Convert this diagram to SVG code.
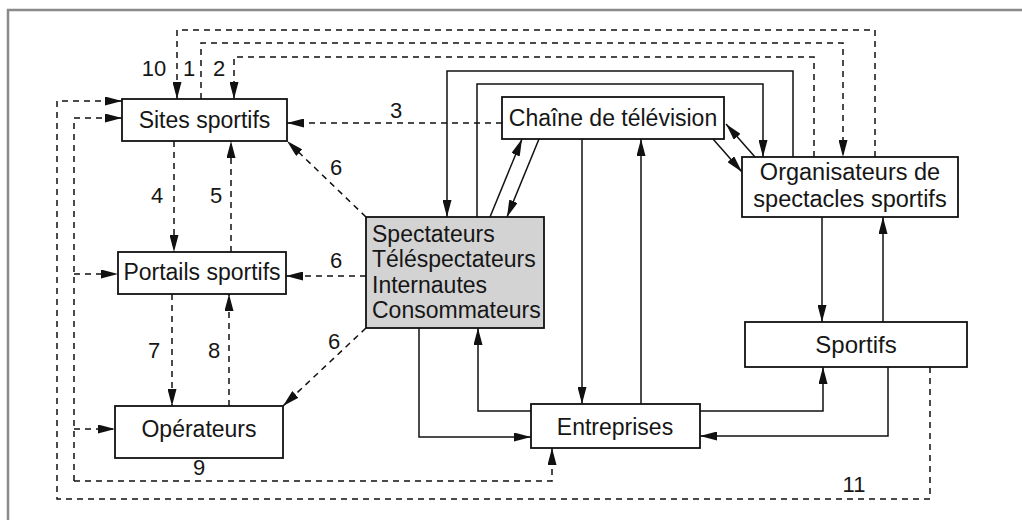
<svg xmlns="http://www.w3.org/2000/svg" width="1022" height="520" viewBox="0 0 1022 520">
  <style>
    .box { fill: #ffffff; stroke: #111111; stroke-width: 1.8; }
    .shaded { fill: #d3d3d3; stroke: #111111; stroke-width: 1.8; }
    .lbl { font-family: "Liberation Sans", Arial, sans-serif; font-size: 23px; fill: #161616; }
    .big { font-size: 24px; }
    .org { font-size: 23.5px; }
    .num { font-family: "Liberation Sans", Arial, sans-serif; font-size: 22px; fill: #161616; text-anchor: middle; }
    .mid { text-anchor: middle; }
    .solid { fill: none; stroke: #111111; stroke-width: 1.5; }
    .dash { fill: none; stroke: #111111; stroke-width: 1.5; stroke-dasharray: 6 5; }
    .arr { marker-end: url(#head); }
  </style>
  <defs>
    <marker id="head" viewBox="0 0 17 9" markerUnits="userSpaceOnUse" markerWidth="17" markerHeight="9" refX="17" refY="4.5" orient="auto">
      <path d="M0,0 L17,4.5 L0,9 z" fill="#111111"/>
    </marker>
  </defs>

  <rect width="1022" height="520" fill="#ffffff"/>
  <!-- page frame (top and left edges) -->
  <path d="M8,520 L8,10 L1022,10" fill="none" stroke="#8a8a8a" stroke-width="2.5"/>

  <g id="connectors">
    <!-- solid flows -->
    <polyline class="solid arr" points="793,157 793,71 447,71 447,217"/>
    <polyline class="solid arr" points="477,217 477,84 763,84 763,157"/>
    <line class="solid arr" x1="490" y1="217" x2="522" y2="139"/>
    <line class="solid arr" x1="539" y1="139" x2="507" y2="217"/>
    <line class="solid arr" x1="582" y1="139" x2="582" y2="404"/>
    <line class="solid arr" x1="641" y1="404" x2="641" y2="139"/>
    <line class="solid arr" x1="755" y1="157" x2="726" y2="124"/>
    <line class="solid arr" x1="713" y1="139" x2="742" y2="172"/>
    <line class="solid arr" x1="822" y1="217" x2="822" y2="322"/>
    <line class="solid arr" x1="883" y1="322" x2="883" y2="217"/>
    <polyline class="solid arr" points="700,411 823,411 823,367"/>
    <polyline class="solid arr" points="888,367 888,436 700,436"/>
    <polyline class="solid arr" points="419,328 419,437 531,437"/>
    <polyline class="solid arr" points="531,411 478,411 478,328"/>

    <!-- dashed flows -->
    <polyline class="dash arr" points="875,157 875,30 177,30 177,99"/>
    <polyline class="dash arr" points="201,99 201,43 843,43 843,157"/>
    <polyline class="dash arr" points="814,157 814,57 234,57 234,99"/>
    <line class="dash arr" x1="502" y1="123" x2="287" y2="123"/>
    <line class="dash arr" x1="174" y1="141" x2="174" y2="252"/>
    <line class="dash arr" x1="231" y1="252" x2="231" y2="141"/>
    <line class="dash arr" x1="172" y1="294" x2="172" y2="406"/>
    <line class="dash arr" x1="229" y1="406" x2="229" y2="294"/>
    <line class="dash arr" x1="366" y1="217" x2="287" y2="141"/>
    <line class="dash arr" x1="366" y1="276" x2="286" y2="276"/>
    <line class="dash arr" x1="366" y1="328" x2="283" y2="406"/>
    <!-- 9 : shared bus towards the web actors and the companies -->
    <polyline class="dash arr" points="74,481 552,481 552,448"/>
    <polyline class="dash arr" points="74,481 74,118 122,118"/>
    <line class="dash arr" x1="74" y1="274" x2="118" y2="274"/>
    <line class="dash arr" x1="74" y1="429" x2="115" y2="429"/>
    <!-- 11 -->
    <polyline class="dash arr" points="930,367 930,499 57,499 57,101 122,101"/>
  </g>

  <g id="flow-numbers">
    <text class="num" x="154" y="76">10</text>
    <text class="num" x="189" y="76">1</text>
    <text class="num" x="219" y="76">2</text>
    <text class="num" x="396" y="118">3</text>
    <text class="num" x="157" y="203">4</text>
    <text class="num" x="216" y="203">5</text>
    <text class="num" x="336" y="175">6</text>
    <text class="num" x="336" y="268">6</text>
    <text class="num" x="334" y="349">6</text>
    <text class="num" x="154" y="358">7</text>
    <text class="num" x="214" y="358">8</text>
    <text class="num" x="199" y="475">9</text>
    <text class="num" x="854" y="492">11</text>
  </g>

  <g id="sites-sportifs">
    <rect class="box" x="122" y="99" width="165" height="42"/>
    <text class="lbl mid" x="204.5" y="128">Sites sportifs</text>
  </g>
  <g id="portails-sportifs">
    <rect class="box" x="118" y="252" width="168" height="42"/>
    <text class="lbl mid" x="202" y="280">Portails sportifs</text>
  </g>
  <g id="operateurs">
    <rect class="box" x="115" y="406" width="168" height="52"/>
    <text class="lbl mid" x="199" y="437">Opérateurs</text>
  </g>
  <g id="public">
    <rect class="shaded" x="366" y="217" width="178" height="111"/>
    <text class="lbl" x="372" y="242">Spectateurs</text>
    <text class="lbl" x="372" y="267">Téléspectateurs</text>
    <text class="lbl" x="372" y="293">Internautes</text>
    <text class="lbl" x="372" y="318">Consommateurs</text>
  </g>
  <g id="chaine-television">
    <rect class="box" x="502" y="97" width="222" height="42"/>
    <text class="lbl mid" x="613" y="126">Chaîne de télévision</text>
  </g>
  <g id="organisateurs">
    <rect class="box" x="742" y="157" width="216" height="60"/>
    <text class="lbl org mid" x="850" y="180">Organisateurs de</text>
    <text class="lbl org mid" x="850" y="207">spectacles sportifs</text>
  </g>
  <g id="sportifs">
    <rect class="box" x="745" y="322" width="222" height="45"/>
    <text class="lbl big mid" x="856" y="353">Sportifs</text>
  </g>
  <g id="entreprises">
    <rect class="box" x="531" y="404" width="169" height="44"/>
    <text class="lbl mid" x="615" y="435">Entreprises</text>
  </g>
</svg>
